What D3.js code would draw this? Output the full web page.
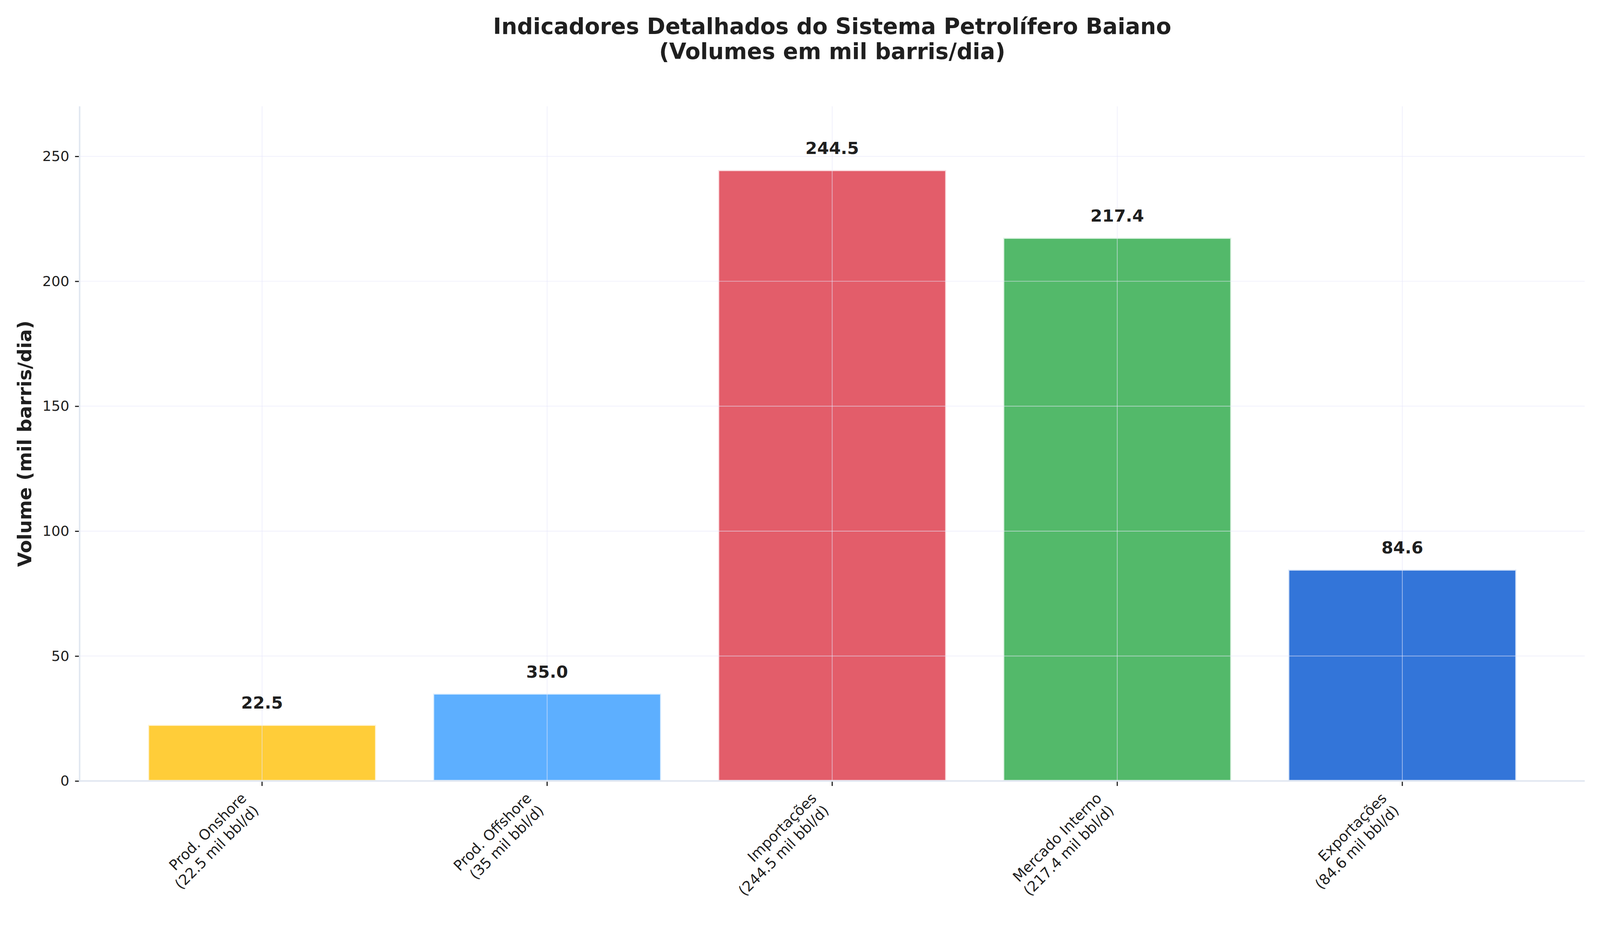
<!DOCTYPE html>
<html>
<head>
<meta charset="utf-8">
<script src="https://cdn.jsdelivr.net/npm/d3@7"></script>
<style>
  html, body { margin: 0; padding: 0; background: #fff; overflow: hidden; }
  svg { display: block; }
  text { font-family: "DejaVu Sans", sans-serif; fill: #1f1f1f; }
</style>
</head>
<body>
<svg id="chart" viewBox="0 0 4200 2400" preserveAspectRatio="xMinYMin meet"
     style="width:100vw;height:calc(100vw * 2400 / 4200)"></svg>
<script>
// data
const categories = ["Prod. Onshore", "Prod. Offshore", "Importações", "Mercado Interno", "Exportações"];
const values = [22.5, 35.0, 244.5, 217.4, 84.6];
const tickLabels = [
  ["Prod. Onshore", "(22.5 mil bbl/d)"],
  ["Prod. Offshore", "(35 mil bbl/d)"],
  ["Importações", "(244.5 mil bbl/d)"],
  ["Mercado Interno", "(217.4 mil bbl/d)"],
  ["Exportações", "(84.6 mil bbl/d)"]
];
const colors = ["#FFC107", "#349BFF", "#DC3545", "#28A745", "#0052CF"];
const yTicks = [0, 50, 100, 150, 200, 250];
const yMax = 270;

const svg = d3.select("#chart");
svg.append("rect").attr("width", 4200).attr("height", 2400).attr("fill", "#fff");

const plotLeft = 209, plotRight = 4160, plotTop = 279, plotBottom = 2049;

const x = d3.scaleBand()
  .domain(categories)
  .range([plotLeft, plotRight])
  .paddingInner(0.2)
  .paddingOuter(0.24);

const y = d3.scaleLinear()
  .domain([0, yMax])
  .range([plotBottom, plotTop]);

// bars
svg.append("g").selectAll("rect")
  .data(values)
  .join("rect")
  .attr("x", (d, i) => x(categories[i]))
  .attr("y", d => y(d))
  .attr("width", x.bandwidth())
  .attr("height", d => y(0) - y(d))
  .attr("fill", (d, i) => colors[i])
  .attr("fill-opacity", 0.8)
  .attr("stroke", "#fff")
  .attr("stroke-opacity", 0.8)
  .attr("stroke-width", 5.5);

// grid on top of the bars
const grid = svg.append("g");
grid.selectAll("line.h")
  .data(yTicks)
  .join("line")
  .attr("class", "h")
  .attr("x1", plotLeft).attr("x2", plotRight)
  .attr("y1", d => y(d)).attr("y2", d => y(d))
  .attr("stroke", "#E6E6FA").attr("stroke-opacity", 0.6).attr("stroke-width", 2);
grid.selectAll("line.v")
  .data(categories)
  .join("line")
  .attr("class", "v")
  .attr("x1", d => x(d) + x.bandwidth() / 2).attr("x2", d => x(d) + x.bandwidth() / 2)
  .attr("y1", plotTop).attr("y2", plotBottom)
  .attr("stroke", "#E6E6FA").attr("stroke-opacity", 0.6).attr("stroke-width", 2);

// y axis
const yAxis = svg.append("g")
  .attr("transform", `translate(${plotLeft},0)`)
  .call(d3.axisLeft(y).tickValues(yTicks).tickSize(12).tickPadding(15).tickFormat(d3.format("d")));
yAxis.select(".domain").remove();
yAxis.selectAll(".tick line").attr("stroke", "#1f1f1f").attr("stroke-width", 3);
yAxis.selectAll(".tick text").attr("font-size", 37).attr("font-family", "DejaVu Sans").attr("fill", "#1f1f1f");

// x axis ticks
const xAxis = svg.append("g")
  .attr("transform", `translate(0,${plotBottom})`)
  .call(d3.axisBottom(x).tickSize(13).tickFormat(""));
xAxis.select(".domain").remove();
xAxis.selectAll(".tick line").attr("stroke", "#1f1f1f").attr("stroke-width", 3);

// spines
svg.append("line").attr("x1", plotLeft).attr("x2", plotLeft).attr("y1", plotTop).attr("y2", plotBottom + 2)
  .attr("stroke", "#E1E7F1").attr("stroke-width", 4);
svg.append("line").attr("x1", plotLeft - 2).attr("x2", plotRight).attr("y1", plotBottom).attr("y2", plotBottom)
  .attr("stroke", "#E1E7F1").attr("stroke-width", 4);

// rotated x tick labels, right/top aligned like matplotlib
const labelTop = plotBottom + 13 + 10;
categories.forEach((c, i) => {
  const cx = x(c) + x.bandwidth() / 2;
  const g = svg.append("g");
  const inner = g.append("g").attr("transform", "rotate(-45)");
  const t = inner.append("text")
    .attr("text-anchor", "end")
    .attr("font-size", 38);
  tickLabels[i].forEach((line, k) => {
    t.append("tspan").attr("x", 0).attr("dy", k === 0 ? 0 : 45.5).text(line);
  });
  const bb = g.node().getBBox();
  g.attr("transform", `translate(${cx - (bb.x + bb.width)},${labelTop - bb.y})`);
});

// value labels
svg.append("g").selectAll("text")
  .data(values)
  .join("text")
  .attr("x", (d, i) => x(categories[i]) + x.bandwidth() / 2)
  .attr("y", d => y(d) - 42)
  .attr("text-anchor", "middle")
  .attr("font-size", 44.5)
  .attr("font-weight", "bold")
  .text(d => d.toFixed(1));

// y axis label
svg.append("text")
  .attr("transform", `translate(82,${(plotTop + plotBottom) / 2}) rotate(-90)`)
  .attr("text-anchor", "middle")
  .attr("font-size", 50)
  .attr("font-weight", "bold")
  .text("Volume (mil barris/dia)");

// title
const title = svg.append("text")
  .attr("x", (plotLeft + plotRight) / 2)
  .attr("y", 89)
  .attr("text-anchor", "middle")
  .attr("font-size", 58.3)
  .attr("font-weight", "bold");
title.append("tspan").attr("x", (plotLeft + plotRight) / 2).text("Indicadores Detalhados do Sistema Petrolífero Baiano");
title.append("tspan").attr("x", (plotLeft + plotRight) / 2).attr("dy", 66).text("(Volumes em mil barris/dia)");
</script>
</body>
</html>
